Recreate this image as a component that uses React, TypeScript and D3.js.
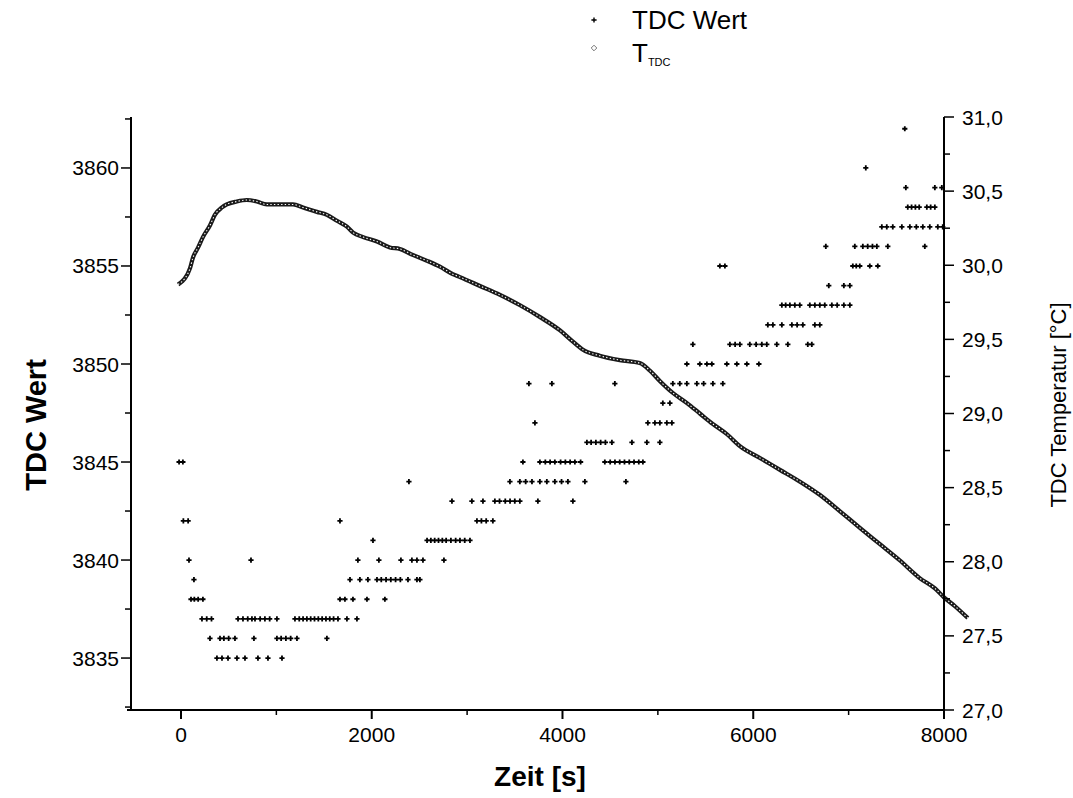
import React from 'react';
import * as d3 from 'd3';

const W = 1073;
const H = 798;

const xMajorTicks = [0, 2000, 4000, 6000, 8000];
const xMinorTicks = [1000, 3000, 5000, 7000];
const leftMajorTicks = [3835, 3840, 3845, 3850, 3855, 3860];
const leftMinorTicks = [3832.5, 3837.5, 3842.5, 3847.5, 3852.5, 3857.5, 3862.5];
const rightMajorTicks = [27, 27.5, 28, 28.5, 29, 29.5, 30, 30.5, 31];
const rightMinorTicks = [27.25, 27.75, 28.25, 28.75, 29.25, 29.75, 30.25, 30.75];

// TDC Wert: levels and the times (s) at which each level was recorded
const tdcLevels = [
  3835, 3836, 3837, 3838, 3839, 3840, 3841, 3842, 3843, 3844, 3845, 3846, 3847, 3848,
  3849, 3850, 3851, 3852, 3853, 3854, 3855, 3856, 3857, 3858, 3859, 3860, 3862,
];
const tdcTimes = [
  [377, 430, 493, 587, 671, 807, 912, 1059],
  [304, 409, 450, 500, 566, 765, 1006, 1050, 1100, 1150, 1216, 1530],
  [220, 270, 320, 598, 650, 700, 744, 776, 830, 880, 930, 1006, 1195, 1240, 1280, 1320, 1360, 1400, 1440, 1480, 1520, 1560, 1600, 1646, 1740, 1845],
  [105, 140, 180, 230, 1667, 1719, 1803, 1950, 2138],
  [136, 1772, 1876, 1960, 2055, 2100, 2150, 2200, 2250, 2300, 2380, 2474, 2505],
  [84, 734, 1855, 2075, 2306, 2421, 2474, 2537, 2757],
  [2013, 2580, 2620, 2660, 2700, 2740, 2780, 2830, 2880, 2925, 2975, 3030],
  [25, 75, 1667, 3103, 3150, 3200, 3270],
  [2841, 3050, 3166, 3291, 3340, 3400, 3450, 3500, 3553, 3742, 4109],
  [2390, 3449, 3553, 3614, 3680, 3763, 3836, 3920, 3990, 4057, 4235, 4665],
  [-20, 20, 3585, 3763, 3820, 3870, 3920, 3980, 4030, 4080, 4130, 4190, 4444, 4500, 4550, 4600, 4650, 4700, 4750, 4800, 4843],
  [4256, 4300, 4350, 4400, 4450, 4518, 4728, 4885, 5021],
  [3711, 4895, 4969, 5021, 5094, 5147],
  [5052, 5126],
  [3648, 3889, 4549, 5157, 5230, 5304, 5409, 5480, 5577, 5681],
  [5304, 5440, 5514, 5566, 5723, 5828, 5933, 6059],
  [5367, 5755, 5810, 5860, 5964, 6030, 6090, 6142, 6247, 6363, 6572, 6614],
  [6153, 6206, 6300, 6405, 6460, 6520, 6646, 6698],
  [6300, 6340, 6384, 6436, 6488, 6593, 6646, 6698, 6750, 6824, 6880, 6950, 7013],
  [6792, 6950, 7013],
  [5650, 5703, 7044, 7080, 7117, 7222, 7306],
  [6761, 7065, 7149, 7200, 7250, 7296, 7411, 7799],
  [7348, 7400, 7463, 7558, 7642, 7710, 7778, 7851, 7935, 7987],
  [7620, 7660, 7700, 7740, 7820, 7860, 7904],
  [7600, 7904, 7977],
  [7180],
  [7589],
];

// T_TDC temperature readings
const tempTimes = [
  -30, 10, 40, 95, 125, 180, 230, 305, 355, 430,
  480, 585, 690, 795, 900, 1040, 1175, 1280, 1425, 1530,
  1635, 1740, 1805, 1910, 2055, 2190, 2295, 2430, 2580, 2715,
  2850, 2925, 3135, 3345, 3555, 3765, 3975, 4100, 4215, 4390,
  4600, 4810, 4915, 5020, 5155, 5305, 5440, 5575, 5725, 5860,
  6070, 6280, 6490, 6700, 6910, 7115, 7325, 7535, 7745, 7905,
  8000, 8115, 8250,
];
const tempValues = [
  29.87, 29.89, 29.91, 29.98, 30.05, 30.12, 30.19, 30.27, 30.34, 30.39,
  30.41, 30.43, 30.44, 30.43, 30.41, 30.41, 30.41, 30.39, 30.36, 30.34,
  30.30, 30.26, 30.22, 30.19, 30.16, 30.12, 30.11, 30.07, 30.03, 29.99,
  29.94, 29.92, 29.86, 29.80, 29.73, 29.65, 29.56, 29.49, 29.43, 29.39,
  29.36, 29.34, 29.29, 29.22, 29.14, 29.07, 29.00, 28.93, 28.86, 28.78,
  28.70, 28.62, 28.54, 28.45, 28.34, 28.23, 28.12, 28.01, 27.89, 27.82,
  27.76, 27.70, 27.62,
];

const FONT = "'Liberation Sans', Arial, sans-serif";

export default function App() {
  const left = 131, right = 944, top = 117, bottom = 710;
  const x = d3.scaleLinear().domain([-524, 8000]).range([left, right]);
  const yL = d3.scaleLinear().domain([3832.35, 3862.6]).range([bottom, top]);
  const yR = d3.scaleLinear().domain([27, 31]).range([bottom, top]);
  const fmtR = (v: number) => d3.format('.1f')(v).replace('.', ',');

  const tdcPoints: { t: number; v: number }[] = [];
  tdcLevels.forEach((v, i) => tdcTimes[i].forEach((t) => tdcPoints.push({ t, v })));

  const tempData = tempTimes.map((t, i) => ({ t, v: tempValues[i] }));
  const line = d3
    .line<{ t: number; v: number }>()
    .x((d) => x(d.t))
    .y((d) => yR(d.v))
    .curve(d3.curveMonotoneX);
  const tempPath = line(tempData) || '';

  const plus = 'M-2.6,0H2.6M0,-2.6V2.6';
  const diamond = 'M0,-2.8L2.8,0L0,2.8L-2.8,0Z';

  return (
    <svg
      width={W}
      height={H}
      style={{ position: 'absolute', left: 0, top: 0, background: '#fff' }}
      fontFamily={FONT}
    >
      <rect x={0} y={0} width={W} height={H} fill="#fff" />

      {/* Legend */}
      <path d={plus} transform="translate(594,20)" stroke="#000" strokeWidth={1.4} fill="none" />
      <text x={632} y={29} fontSize={26} fill="#000">TDC Wert</text>
      <path d={diamond} transform="translate(594,48)" stroke="#777" strokeWidth={1} fill="none" />
      <text x={632} y={62} fontSize={26} fill="#000">
        T<tspan fontSize={11} dy={4}>TDC</tspan>
      </text>

      {/* Temperature series */}
      <path d={tempPath} fill="none" stroke="#1a1a1a" strokeWidth={4.2} strokeLinejoin="round" />
      <path d={tempPath} fill="none" stroke="#fff" strokeWidth={1.1} strokeDasharray="1.4,2.2" />

      {/* TDC Wert series */}
      {tdcPoints.map((d, i) => (
        <path
          key={i}
          d={plus}
          transform={`translate(${x(d.t)},${yL(d.v)})`}
          stroke="#000"
          strokeWidth={1.8}
          fill="none"
        />
      ))}

      {/* Bottom axis */}
      <line x1={127} x2={right} y1={bottom} y2={bottom} stroke="#000" strokeWidth={2} />
      {xMajorTicks.map((t) => (
        <g key={'xm' + t}>
          <line x1={x(t)} x2={x(t)} y1={bottom} y2={bottom + 9} stroke="#000" strokeWidth={2} />
          <text x={x(t)} y={742} fontSize={21} textAnchor="middle" fill="#000">{t}</text>
        </g>
      ))}
      {xMinorTicks.map((t) => (
        <line key={'xn' + t} x1={x(t)} x2={x(t)} y1={bottom} y2={bottom + 5} stroke="#000" strokeWidth={1.5} />
      ))}
      <text x={540} y={786} fontSize={28} fontWeight="bold" textAnchor="middle" fill="#000">Zeit [s]</text>

      {/* Left axis */}
      <line x1={left} x2={left} y1={top} y2={bottom} stroke="#000" strokeWidth={2} />
      {leftMajorTicks.map((v) => (
        <g key={'lm' + v}>
          <line x1={left - 10} x2={left} y1={yL(v)} y2={yL(v)} stroke="#000" strokeWidth={1.5} />
          <text x={119} y={yL(v) + 7.5} fontSize={21} textAnchor="end" fill="#000">{v}</text>
        </g>
      ))}
      {leftMinorTicks.map((v) => (
        <line key={'ln' + v} x1={left - 6} x2={left} y1={yL(v)} y2={yL(v)} stroke="#000" strokeWidth={1.5} />
      ))}
      <text
        transform={`translate(46,425) rotate(-90)`}
        fontSize={29}
        fontWeight="bold"
        textAnchor="middle"
        fill="#000"
      >
        TDC Wert
      </text>

      {/* Right axis */}
      <line x1={right} x2={right} y1={top} y2={bottom} stroke="#000" strokeWidth={2} />
      {rightMajorTicks.map((v) => (
        <g key={'rm' + v}>
          <line x1={right} x2={right + 10} y1={yR(v)} y2={yR(v)} stroke="#000" strokeWidth={1.5} />
          <text x={962} y={yR(v) + 7.5} fontSize={21} fill="#000">{fmtR(v)}</text>
        </g>
      ))}
      {rightMinorTicks.map((v) => (
        <line key={'rn' + v} x1={right} x2={right + 6} y1={yR(v)} y2={yR(v)} stroke="#000" strokeWidth={1.5} />
      ))}
      <text
        transform={`translate(1066,405) rotate(-90)`}
        fontSize={22}
        textAnchor="middle"
        fill="#000"
      >
        TDC Temperatur [°C]
      </text>
    </svg>
  );
}
